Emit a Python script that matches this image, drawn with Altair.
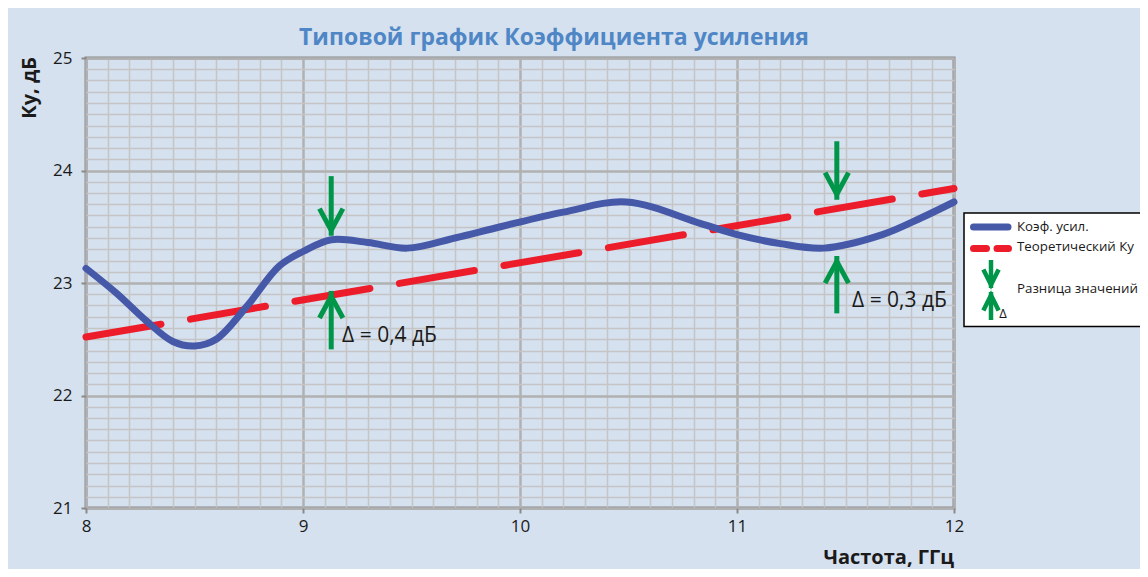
import altair as alt
import pandas as pd

# ---- data ----
freq = [8.0, 8.14, 8.28, 8.4, 8.5, 8.6, 8.74, 8.89, 9.0, 9.13, 9.3, 9.48, 9.7,
        9.91, 10.2, 10.49, 10.83, 11.0, 11.2, 11.4, 11.67, 11.85, 12.0]
gain = [23.13, 22.91, 22.66, 22.48, 22.44, 22.50, 22.79, 23.15, 23.28, 23.385, 23.36,
        23.31, 23.40, 23.50, 23.63, 23.72, 23.53, 23.43, 23.35, 23.31, 23.43, 23.58, 23.72]

theory_freq = [8.0, 12.0]
theory_gain = [22.52, 23.84]

arrow_x = [9.13, 9.13, 11.46, 11.46]
arrow_from = [23.95, 22.41, 24.26, 22.73]
arrow_tip = [23.42, 22.93, 23.74, 23.24]
arrow_dir = ["down", "up", "down", "up"]

label_x = [9.18, 11.53]
label_y = [22.525, 22.836]
label_text = ["Δ = 0,4 дБ", "Δ = 0,3 дБ"]

x_ticks = [round(8 + 0.1 * i, 1) for i in range(41)]
y_ticks = [round(21 + 0.1 * i, 1) for i in range(41)]

title_text = "Типовой график Коэффициента усиления"
y_title = "Ку, дБ"
x_title = "Частота, ГГц"
legend_labels = ["Коэф. усил.", "Теоретический Ку", "Разница значений"]

# ---- styles ----
FONT = "Open Sans"
BG = "#d5e1ee"
BLUE = "#4659a9"
RED = "#ed1c2a"
GREEN = "#00964a"
TXT = "#1a1a1a"

W, H = 868, 450
DOWN = "M-0.54,-1.25L0,-0.25L0.54,-1.25"
UP = "M-0.54,1.25L0,0.25L0.54,1.25"
LDOWN = "M-0.5,-1.3L0,-0.3L0.5,-1.3"
LUP = "M-0.5,1.3L0,0.3L0.5,1.3"

major = "abs(datum.value - round(datum.value)) < 0.01"


def make_axis(vals, pad):
    return alt.Axis(
        values=vals, title=None, domain=False, grid=True,
        gridColor={"condition": {"test": major, "value": "#b1b1b1"}, "value": "#c5c5c5"},
        gridWidth={"condition": {"test": major, "value": 2.5}, "value": 1.5},
        tickColor={"condition": {"test": major, "value": "#8a8a8a"}, "value": "transparent"},
        tickSize=5, tickWidth=2,
        labelExpr=f"{major} ? format(round(datum.value), 'd') : ''",
        labelFont=FONT, labelFontSize=17, labelColor=TXT, labelPadding=pad,
        labelOverlap=False, labelFlush=False, labelBound=False,
    )


xs = alt.Scale(domain=[8, 12], nice=False, zero=False)
ys = alt.Scale(domain=[21, 25], nice=False, zero=False)
X = alt.X("x:Q", scale=xs, axis=make_axis(x_ticks, 5))
Y = alt.Y("y:Q", scale=ys, axis=make_axis(y_ticks, 9))

df_gain = pd.DataFrame({"x": freq, "y": gain})
df_theory = pd.DataFrame({"x": theory_freq, "y": theory_gain})
df_arrow = pd.DataFrame({"x": arrow_x, "y": arrow_tip, "y2": arrow_from, "dir": arrow_dir})
df_label = pd.DataFrame({"x": label_x, "y": label_y, "t": label_text})
one = pd.DataFrame({"a": [0]})

theory = alt.Chart(df_theory).mark_line(
    color=RED, strokeWidth=7, strokeDash=[76, 30], strokeCap="round"
).encode(x=X, y=Y)

curve = alt.Chart(df_gain).mark_line(
    color=BLUE, strokeWidth=7, interpolate="catmull-rom", strokeCap="round"
).encode(x=X, y=Y)

shafts = alt.Chart(df_arrow).mark_rule(color=GREEN, strokeWidth=5).encode(
    x=X, y=Y, y2="y2:Q")

heads = alt.Chart(df_arrow).mark_point(
    filled=False, stroke=GREEN, strokeWidth=5, strokeJoin="miter", opacity=1, size=1884
).encode(
    x=X, y=Y,
    shape=alt.Shape("dir:N", scale=alt.Scale(domain=["down", "up"], range=[DOWN, UP]), legend=None),
)

labels = alt.Chart(df_label).mark_text(
    font=FONT, fontSize=21, color=TXT, align="left", baseline="middle"
).encode(x=X, y=Y, text="t:N")

# ---- titles ----
title = alt.Chart(one).mark_text(
    text=title_text, font=FONT, fontSize=23, fontWeight="bold", color="#4f86c6",
    align="center", baseline="alphabetic"
).encode(x=alt.value(468), y=alt.value(-13))

ytitle = alt.Chart(one).mark_text(
    text=y_title, font=FONT, fontSize=20, fontWeight="bold", color=TXT,
    align="right", baseline="middle", angle=270
).encode(x=alt.value(-56), y=alt.value(-1))

xtitle = alt.Chart(one).mark_text(
    text=x_title, font=FONT, fontSize=20, fontWeight="bold", color=TXT,
    align="right", baseline="alphabetic"
).encode(x=alt.value(W), y=alt.value(506))

# ---- legend ----
lbox = alt.Chart(one).mark_rect(fill="white", stroke="black", strokeWidth=1.5).encode(
    x=alt.value(878), x2=alt.value(1075), y=alt.value(155), y2=alt.value(268.5))
lblue = alt.Chart(one).mark_rule(color=BLUE, strokeWidth=7, strokeCap="round").encode(
    x=alt.value(887.5), x2=alt.value(922), y=alt.value(169))
lred = alt.Chart(one).mark_rule(color=RED, strokeWidth=7, strokeCap="round",
                                strokeDash=[13, 10.5]).encode(
    x=alt.value(887.5), x2=alt.value(922.5), y=alt.value(190.5))
lshaft1 = alt.Chart(one).mark_rule(color=GREEN, strokeWidth=4.5).encode(
    x=alt.value(905), y=alt.value(202), y2=alt.value(230))
lshaft2 = alt.Chart(one).mark_rule(color=GREEN, strokeWidth=4.5).encode(
    x=alt.value(905), y=alt.value(234), y2=alt.value(262))
lhead1 = alt.Chart(one).mark_point(filled=False, stroke=GREEN, strokeWidth=4.5,
                                   strokeJoin="miter", opacity=1, size=936).encode(
    x=alt.value(905), y=alt.value(231.3), shape=alt.value(LDOWN))
lhead2 = alt.Chart(one).mark_point(filled=False, stroke=GREEN, strokeWidth=4.5,
                                   strokeJoin="miter", opacity=1, size=936).encode(
    x=alt.value(905), y=alt.value(232.7), shape=alt.value(LUP))
ldelta = alt.Chart(one).mark_text(text="Δ", font=FONT, fontSize=13, color=TXT,
                                  align="center", baseline="middle").encode(
    x=alt.value(917), y=alt.value(255.5))
ltext1 = alt.Chart(one).mark_text(text=legend_labels[0], font=FONT, fontSize=13.3, color=TXT,
                                  align="left", baseline="middle").encode(
    x=alt.value(931), y=alt.value(169))
ltext2 = alt.Chart(one).mark_text(text=legend_labels[1], font=FONT, fontSize=13.3, color=TXT,
                                  align="left", baseline="middle").encode(
    x=alt.value(931), y=alt.value(189))
ltext3 = alt.Chart(one).mark_text(text=legend_labels[2], font=FONT, fontSize=13.3, color=TXT,
                                  align="left", baseline="middle").encode(
    x=alt.value(931), y=alt.value(231))

chart = alt.layer(
    theory, curve, shafts, heads, labels, title, ytitle, xtitle,
    lbox, lblue, lred, lshaft1, lshaft2, lhead1, lhead2, ldelta, ltext1, ltext2, ltext3,
).properties(
    width=W, height=H,
    autosize=alt.AutoSizeParams(type="none"),
    padding={"left": 78, "top": 50, "right": 186, "bottom": 61},
    background=BG,
).configure_view(stroke="#8a8a8a", strokeWidth=3)

chart.save("out.html", embed_options={"renderer": "svg", "actions": False})
